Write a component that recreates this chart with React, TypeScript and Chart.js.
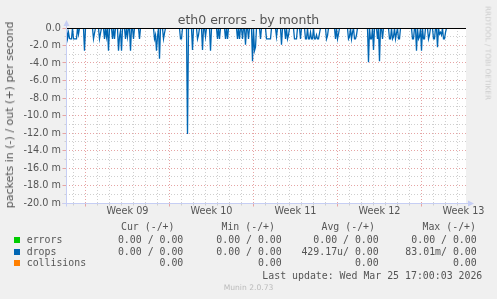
import React, { useEffect, useRef } from 'react';
import { Chart, registerables } from 'chart.js';

Chart.register(...registerables);

// ---- data ----
const SLOT_HOURS = 2; // one sample per 2 hours (month view)
const X_MAX_HOURS = 800;
const Y_MIN = -20; // milli packets / s
const Y_MAX = 0;
const Y_STEP = 2;

const weekLabels = ['Week 09', 'Week 10', 'Week 11', 'Week 12', 'Week 13'];
const weekLabelHours = [123, 291, 459, 627, 795];
const weekStartHours = [39, 207, 375, 543, 711];
const FIRST_DAY_HOUR = 15;

// drops "in" direction, in milli packets per second (drawn negative)
const dropsInMilli = [
  0, -1.2, -0.5, -1.2, -1.25, -1.25, 0, -1.25, -1.25, -1.25, -1.25, 0, -0.7, 0, 0, 0, 0, 0, -2.6, 0,
  0, 0, 0, 0, 0, 0, 0, -1.25, -0.6, 0, 0, 0, 0, -1.25, -0.6, 0, 0, 0, -1.25, 0,
  -1.0, 0, -2.6, 0, 0, 0, -1.25, 0, -1.25, 0, 0, 0, -2.6, -1.0, -0.3, -2.6, 0, 0, 0, -1.25,
  0, -1.0, 0, 0, -2.6, 0, 0, -1.25, 0, 0, 0, 0, 0, -1.25, 0, 0, 0, 0, 0, 0,
  0, 0, 0, 0, 0, 0, 0, 0, -1.25, -0.8, -2.6, -1.0, 0, -3.5, 0, 0, 0, -1.25, -0.6, 0,
  0, 0, 0, 0, 0, 0, 0, 0, 0, 0, 0, 0, 0, 0, -1.25, -1.25, 0, 0, 0, 0,
  0, -12.1, 0, 0, 0, 0, -2.5, 0, 0, 0, 0, -1.25, -0.8, 0, 0, 0, -2.5, 0, 0, -1.0,
  0, 0, 0, 0, -2.6, 0, 0, 0, 0, 0, 0, -1.25, 0, -1.25, 0, 0, 0, 0, 0, -1.25,
  0, -1.25, 0, 0, 0, 0, 0, 0, 0, 0, 0, -1.25, 0, -1.25, 0, 0, -1.25, 0, 0, -1.9,
  0, 0, -1.25, 0, 0, 0, -3.8, 0, -2.6, -2.2, 0, 0, 0, 0, -1.25, 0, 0, 0, 0, 0,
  -1.25, -1.25, -1.25, -1.25, -1.25, 0, 0, 0, 0, 0, -1.0, 0, 0, 0, 0, -1.9, 0, 0, 0, -1.25,
  0, -1.25, -0.8, 0, 0, 0, 0, 0, -1.25, -1.25, -1.25, 0, 0, 0, -1.25, 0, 0, 0, 0, -1.25,
  -1.25, 0, -1.25, -1.25, -0.5, -1.25, -1.25, 0, -1.25, -1.25, -0.8, -1.25, -1.25, -0.6, 0, 0, 0, 0, 0, 0,
  -1.25, -0.9, 0, 0, 0, 0, 0, 0, 0, -1.25, 0, -1.25, -0.7, 0, 0, 0, 0, 0, 0, 0,
  0, 0, -1.25, -1.0, 0, -1.25, -0.5, 0, -1.25, -1.25, -0.8, 0, 0, 0, 0, 0, 0, 0, 0, 0,
  0, 0, -3.9, 0, -1.25, -1.25, 0, -2.5, 0, 0, 0, -1.25, 0, -3.8, 0, 0, -1.25, 0, 0, 0,
  0, 0, 0, -1.25, -1.25, 0, -1.25, -1.0, 0, -1.25, -0.6, 0, -1.25, -1.25, 0, 0, 0, 0, 0, 0,
  0, 0, 0, 0, 0, 0, -1.25, -1.25, 0, 0, -2.6, 0, -1.25, -1.0, 0, -2.6, 0, -1.25, -1.25, 0,
  0, 0, -1.25, -0.8, 0, 0, 0, -1.25, -1.25, 0, 0, -2.2, 0, -0.7, -0.5, -0.8, 0, -1.25, -1.25, -0.5,
  0, 0, 0, 0, 0, 0, 0, 0, 0, 0, 0, 0, 0, 0, 0, 0, 0, 0, 0, 0,
];

// ---- legend ----
const legendNames = ['errors', 'drops', 'collisions'];
const legendColors = ['#00cc00', '#0066b3', '#ff8000'];
const legendHeaders = ['Cur (-/+)', 'Min (-/+)', 'Avg (-/+)', 'Max (-/+)'];
const curValues = ['0.00 / 0.00', '0.00 / 0.00', '0.00'];
const minValues = ['0.00 / 0.00', '0.00 / 0.00', '0.00'];
const avgValues = ['0.00 / 0.00', '429.17u/ 0.00', '0.00'];
const maxValues = ['0.00 / 0.00', '83.01m/ 0.00', '0.00'];
const lastUpdate = 'Last update: Wed Mar 25 17:00:03 2026';

const TITLE = 'eth0 errors - by month';
const Y_TITLE = 'packets in (-) / out (+) per second';

const SANS = "'DejaVu Sans', sans-serif";
const MONO = "'DejaVu Sans Mono', monospace";
const W = 497;
const H = 299;

const AXIS_COLOR = '#c6cef4';
const MINOR_GRID = '#cfcfcf';
const MAJOR_GRID = '#e6a4a4';

export default function App() {
  const ref = useRef<HTMLCanvasElement>(null);

  useEffect(() => {
    const canvas = ref.current;
    if (!canvas) return;
    const points = dropsInMilli.map((v, i) => ({ x: i * SLOT_HOURS + SLOT_HOURS / 2, y: v }));

    const rrdPlugin = {
      id: 'rrdGrid',
      beforeDatasetsDraw(chart: any) {
        const { ctx, chartArea: a, scales } = chart;
        const xs = scales.x;
        const ys = scales.y;
        ctx.save();
        ctx.fillStyle = '#ffffff';
        ctx.fillRect(a.left, a.top, a.right - a.left, a.bottom - a.top);
        ctx.lineWidth = 1;
        ctx.setLineDash([1, 2]);
        const hline = (v: number, color: string) => {
          const y = Math.floor(ys.getPixelForValue(v)) + 0.5;
          ctx.strokeStyle = color;
          ctx.beginPath();
          ctx.moveTo(a.left, y);
          ctx.lineTo(a.right, y);
          ctx.stroke();
        };
        const vline = (h: number, color: string) => {
          const x = Math.floor(xs.getPixelForValue(h)) + 0.5;
          ctx.strokeStyle = color;
          ctx.beginPath();
          ctx.moveTo(x, a.top);
          ctx.lineTo(x, a.bottom);
          ctx.stroke();
        };
        for (let v = Y_MIN + 1; v < Y_MAX; v += Y_STEP) hline(v, MINOR_GRID);
        for (let h = FIRST_DAY_HOUR; h < X_MAX_HOURS; h += 24) {
          if (!weekStartHours.includes(h)) vline(h, MINOR_GRID);
        }
        for (let v = Y_MIN + Y_STEP; v < Y_MAX; v += Y_STEP) hline(v, MAJOR_GRID);
        weekStartHours.forEach((h) => vline(h, MAJOR_GRID));
        ctx.restore();
      },
      afterDatasetsDraw(chart: any) {
        const { ctx, chartArea: a, scales } = chart;
        const xs = scales.x;
        const ys = scales.y;
        ctx.save();
        ctx.lineWidth = 1;
        // zero line
        const y0 = Math.floor(ys.getPixelForValue(0)) + 0.5;
        ctx.strokeStyle = '#000000';
        ctx.beginPath();
        ctx.moveTo(a.left, y0);
        ctx.lineTo(a.right, y0);
        ctx.stroke();
        // tick marks
        const yb = Math.floor(a.bottom) + 0.5;
        const xl = Math.floor(a.left) + 0.5;
        for (let h = FIRST_DAY_HOUR; h < X_MAX_HOURS; h += 24) {
          const x = Math.floor(xs.getPixelForValue(h)) + 0.5;
          const major = weekStartHours.includes(h);
          ctx.strokeStyle = major ? MAJOR_GRID : MINOR_GRID;
          ctx.beginPath();
          ctx.moveTo(x, yb);
          ctx.lineTo(x, yb + (major ? 3 : 2));
          ctx.stroke();
        }
        for (let v = Y_MIN; v <= Y_MAX; v += 1) {
          const y = Math.floor(ys.getPixelForValue(v)) + 0.5;
          const major = (v - Y_MIN) % Y_STEP === 0;
          ctx.strokeStyle = major ? MAJOR_GRID : MINOR_GRID;
          ctx.beginPath();
          ctx.moveTo(xl - (major ? 4 : 2), y);
          ctx.lineTo(xl, y);
          ctx.stroke();
        }
        // axes
        ctx.strokeStyle = AXIS_COLOR;
        ctx.fillStyle = AXIS_COLOR;
        ctx.beginPath();
        ctx.moveTo(xl, yb + 3);
        ctx.lineTo(xl, a.top - 5);
        ctx.moveTo(xl - 4, yb);
        ctx.lineTo(a.right + 3, yb);
        ctx.stroke();
        // arrows
        ctx.beginPath();
        ctx.moveTo(xl, a.top - 8);
        ctx.lineTo(xl - 3, a.top - 2);
        ctx.lineTo(xl + 3, a.top - 2);
        ctx.closePath();
        ctx.fill();
        ctx.beginPath();
        ctx.moveTo(a.right + 8, yb);
        ctx.lineTo(a.right + 2, yb - 3);
        ctx.lineTo(a.right + 2, yb + 3);
        ctx.closePath();
        ctx.fill();
        ctx.restore();
      },
    };

    const chart = new Chart(canvas, {
      type: 'line',
      data: {
        datasets: [
          {
            label: 'drops',
            data: points,
            borderColor: '#0066b3',
            borderWidth: 1.3,
            pointRadius: 0,
            tension: 0,
            fill: false,
          },
        ],
      },
      options: {
        animation: false,
        responsive: false,
        devicePixelRatio: 1,
        events: [],
        layout: { padding: { top: 28, bottom: H - 203 - 20, left: 0, right: W - 466 } },
        plugins: { legend: { display: false }, tooltip: { enabled: false }, title: { display: false } },
        scales: {
          x: {
            type: 'linear',
            min: 0,
            max: X_MAX_HOURS,
            grid: { display: false, drawTicks: false },
            border: { display: false },
            afterBuildTicks: (s: any) => {
              s.ticks = weekLabelHours.map((v) => ({ value: v }));
            },
            afterFit: (s: any) => {
              s.height = 20;
            },
            ticks: {
              autoSkip: false,
              maxRotation: 0,
              minRotation: 0,
              padding: 3,
              color: '#555555',
              font: { family: SANS, size: 9.7 },
              callback: (_v: any, i: number) => weekLabels[i],
            },
          },
          y: {
            type: 'linear',
            min: Y_MIN,
            max: Y_MAX,
            grid: { display: false, drawTicks: false },
            border: { display: false },
            afterFit: (s: any) => {
              s.width = 66;
            },
            ticks: {
              stepSize: Y_STEP,
              padding: 5,
              color: '#555555',
              font: { family: SANS, size: 9.7 },
              callback: (v: any) => (Number(v) === 0 ? '0.0' : `${Number(v).toFixed(1)} m`),
            },
          },
        },
      },
      plugins: [rrdPlugin],
    });
    return () => chart.destroy();
  }, []);

  const colRights = [183.3, 281.7, 378.7, 476.7];
  const headerRights = [174.5, 275, 375, 476];
  const rowCenters = [239.7, 251.7, 263.3];
  const columns = [curValues, minValues, avgValues, maxValues];

  const text = (content: string, style: React.CSSProperties, key?: string | number) => (
    <div key={key} style={{ position: 'absolute', whiteSpace: 'pre', ...style }}>
      {content}
    </div>
  );

  return (
    <div
      style={{
        position: 'fixed',
        left: 0,
        top: 0,
        width: W,
        height: H,
        background: '#f0f0f0',
        overflow: 'hidden',
        fontFamily: SANS,
        color: '#555555',
      }}
    >
      <canvas ref={ref} width={W} height={H} style={{ position: 'absolute', left: 0, top: 0, width: W, height: H }} />
      {text(TITLE, { left: 0, width: W, top: 11.5, lineHeight: '15px', fontSize: 12.5, textAlign: 'center', color: '#555' })}
      {text(Y_TITLE, {
        left: 10,
        top: 115,
        fontSize: 11,
        lineHeight: '12px',
        transform: 'translate(-50%, -50%) rotate(-90deg)',
        color: '#555',
      })}
      {text('RRDTOOL / TOBI OETIKER', {
        left: 488,
        top: 53,
        fontSize: 7.3,
        lineHeight: '9px',
        transform: 'translate(-50%, -50%) rotate(90deg)',
        color: '#cccccc',
      })}
      {legendHeaders.map((h, i) =>
        text(h, { right: W - headerRights[i], top: 227.3 - 6, lineHeight: '12px', fontFamily: MONO, fontSize: 9.9 }, 'h' + i)
      )}
      {legendNames.map((n, r) => (
        <React.Fragment key={'r' + r}>
          <div
            style={{
              position: 'absolute',
              left: 14,
              top: rowCenters[r] - 3,
              width: 6,
              height: 6,
              background: legendColors[r],
            }}
          />
          {text(n, { left: 26.7, top: rowCenters[r] - 6, lineHeight: '12px', fontFamily: MONO, fontSize: 9.9 })}
          {columns.map((col, c) =>
            text(
              col[r],
              { right: W - colRights[c], top: rowCenters[r] - 6, lineHeight: '12px', fontFamily: MONO, fontSize: 9.9 },
              'c' + c
            )
          )}
        </React.Fragment>
      ))}
      {text(lastUpdate, { right: W - 482.3, top: 275.7 - 6, lineHeight: '12px', fontFamily: MONO, fontSize: 9.9 })}
      {text('Munin 2.0.73', {
        left: 0,
        width: W,
        textAlign: 'center',
        top: 288.3 - 5,
        lineHeight: '10px',
        fontSize: 7.6,
        color: '#bbbbbb',
      })}
    </div>
  );
}
